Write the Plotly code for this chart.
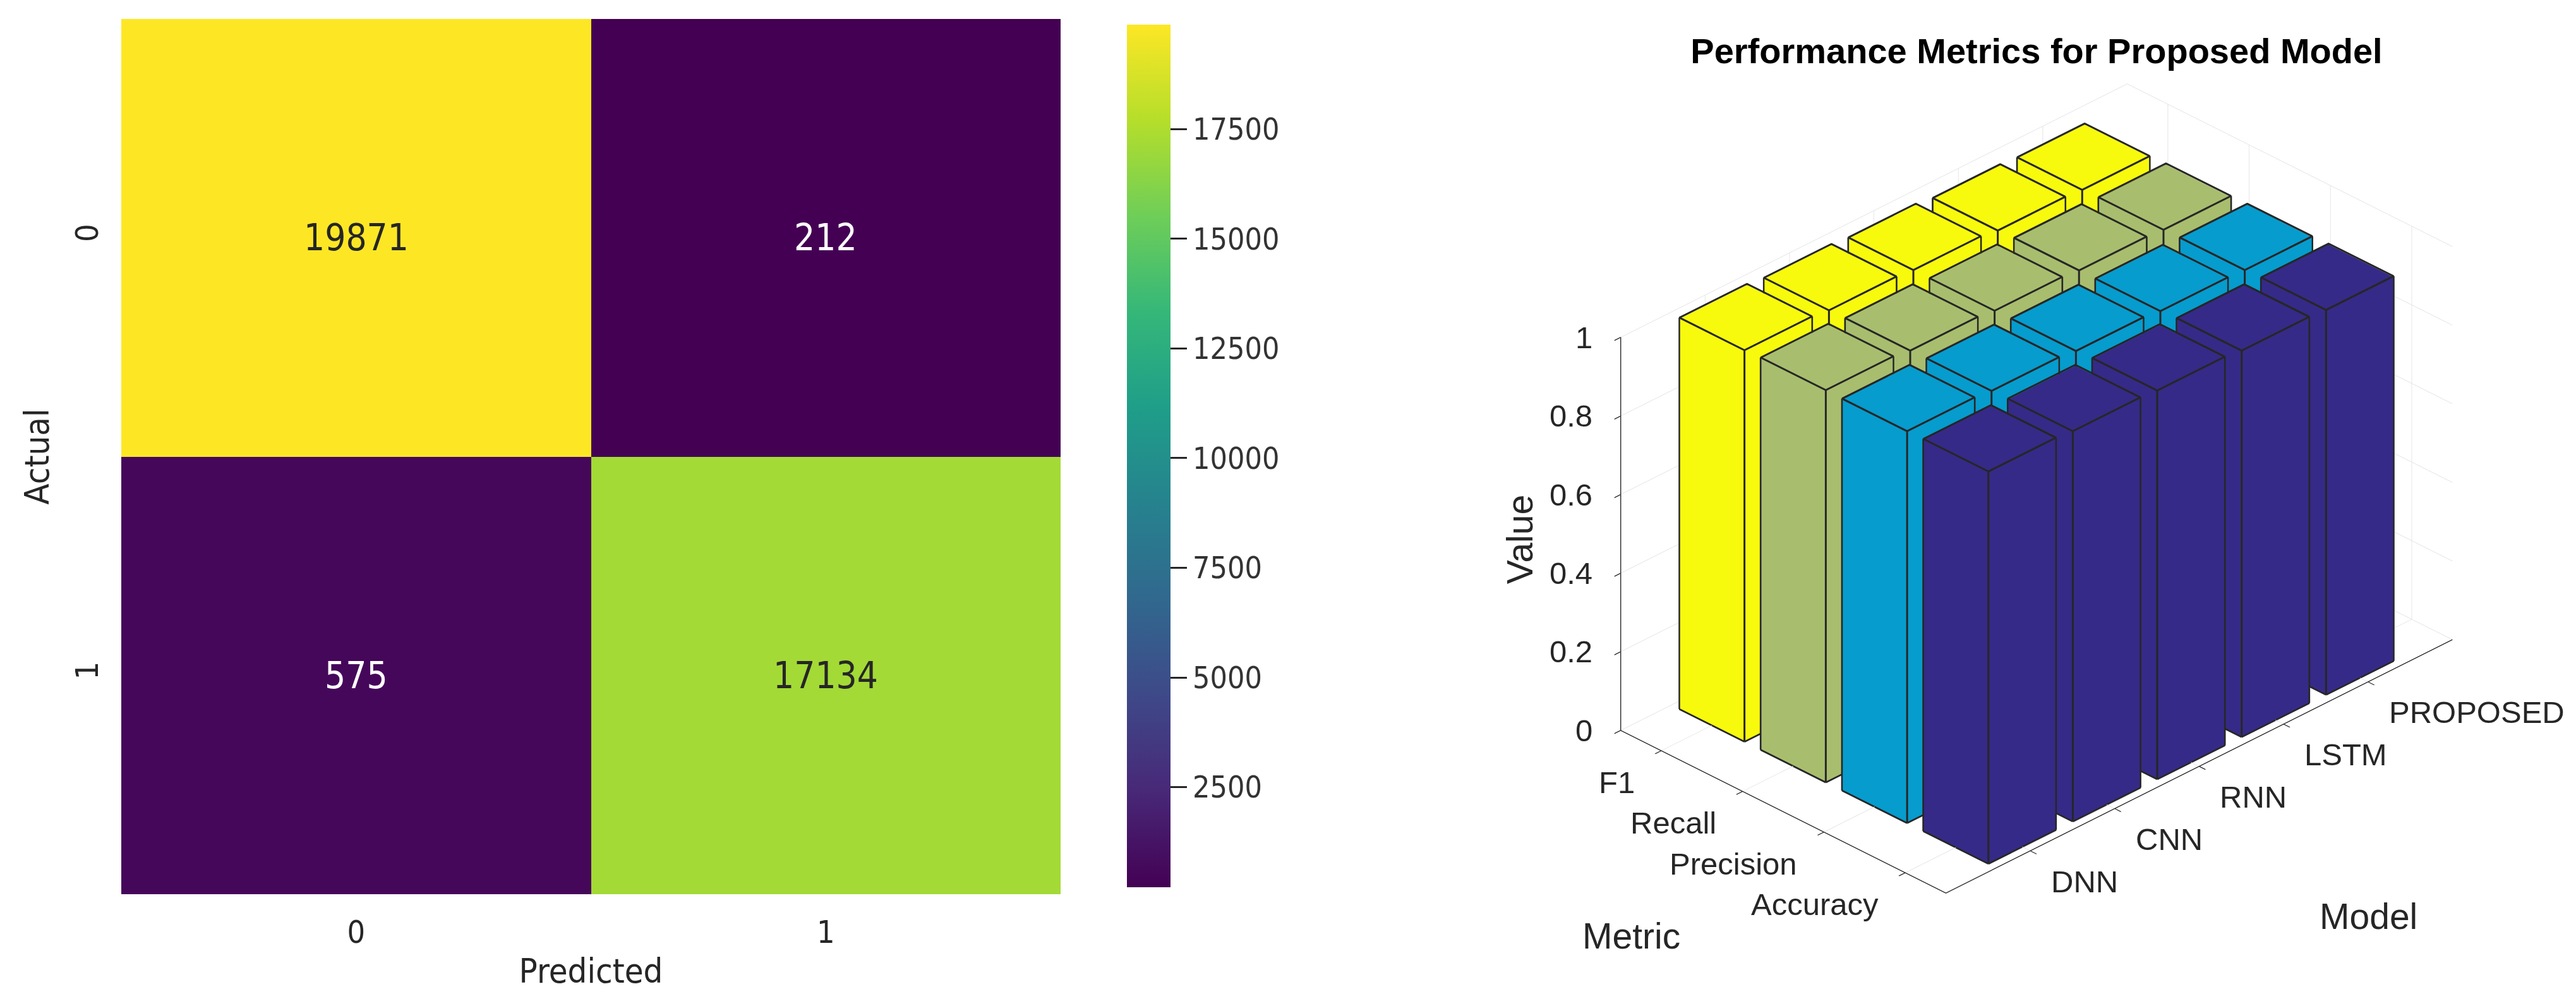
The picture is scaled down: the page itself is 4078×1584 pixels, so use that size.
#!/usr/bin/env python3
import plotly.graph_objects as go

# +
# data
# -
cm_labels = ['0', '1']
cm_values = [[19871, 212],
             [575, 17134]]
cbar_ticks = [2500, 5000, 7500, 10000, 12500, 15000, 17500]

models = ['DNN', 'CNN', 'RNN', 'LSTM', 'PROPOSED']
metrics = ['Accuracy', 'Precision', 'Recall', 'F1']
accuracy = [0.998, 0.993, 0.989, 0.983, 0.979]
precision = [0.997, 0.992, 0.986, 0.980, 0.977]
recall = [0.998, 0.991, 0.985, 0.980, 0.976]
f1 = [0.996, 0.990, 0.985, 0.978, 0.974]
value_ticks = [0, 0.2, 0.4, 0.6, 0.8, 1]

bar_colors = ['#352a87', '#069cce', '#a8be6e', '#f8fa0d']

W, H = 4078, 1584
cm_font = 'DejaVu Sans Condensed, DejaVu Sans'
ml_font = 'Liberation Sans, Arial, Helvetica'
ink = '#262626'

fig = go.Figure()

# +
# left: confusion matrix heatmap
# -
zmin = min(min(r) for r in cm_values)
zmax = max(max(r) for r in cm_values)
fig.add_trace(go.Heatmap(
    z=cm_values, x=cm_labels, y=cm_labels, xaxis='x', yaxis='y',
    colorscale='Viridis', zmin=zmin, zmax=zmax, hoverinfo='skip',
    colorbar=dict(x=1766 / W, xanchor='left', y=1 - 714 / H, yanchor='middle',
                  len=(1407 - 22) / H, lenmode='fraction',
                  thickness=69, thicknessmode='pixels', outlinewidth=0,
                  tickvals=cbar_ticks, ticktext=[str(t) for t in cbar_ticks],
                  ticks='outside', ticklen=26, tickwidth=3,
                  tickcolor=ink, tickfont=dict(family=cm_font, size=48, color='#333333'))))

for r, row in enumerate(cm_values):
    for c, val in enumerate(row):
        fig.add_annotation(x=cm_labels[c], y=cm_labels[r], xref='x', yref='y',
                           text=str(val), showarrow=False,
                           font=dict(family=cm_font, size=58,
                                     color='white' if val < (zmin + zmax) / 2 else ink))

# +
# right: 3D bars
# -
rows = [accuracy, precision, recall, f1]
hw = 0.4
eps = 0.004
for j, vals in enumerate(rows):
    vx, vy, vz, ti, tj, tk = [], [], [], [], [], []
    ex, ey, ez = [], [], []
    for i, v in enumerate(vals):
        xc, yc = i + 1, j + 1
        x0, x1 = xc - hw + eps, xc + hw - eps
        y0, y1 = yc - hw + eps, yc + hw - eps
        z1 = v - eps / 2
        b = len(vx)
        for (px, py, pz) in [(x0, y0, 0), (x1, y0, 0), (x1, y1, 0), (x0, y1, 0),
                             (x0, y0, z1), (x1, y0, z1), (x1, y1, z1), (x0, y1, z1)]:
            vx.append(px); vy.append(py); vz.append(pz)
        for (a, bb, cc) in [(0, 1, 2), (0, 2, 3), (4, 5, 6), (4, 6, 7),
                            (0, 1, 5), (0, 5, 4), (3, 2, 6), (3, 6, 7),
                            (0, 3, 7), (0, 7, 4), (1, 2, 6), (1, 6, 5)]:
            ti.append(b + a); tj.append(b + bb); tk.append(b + cc)
        # outline
        X0, X1, Y0, Y1 = xc - hw, xc + hw, yc - hw, yc + hw
        c = [(X0, Y0), (X1, Y0), (X1, Y1), (X0, Y1)]
        for zz in (0, v):
            for k in range(5):
                px, py = c[k % 4]
                ex.append(px); ey.append(py); ez.append(zz)
            ex.append(None); ey.append(None); ez.append(None)
        for px, py in c:
            ex += [px, px, None]; ey += [py, py, None]; ez += [0, v, None]
    fig.add_trace(go.Mesh3d(x=vx, y=vy, z=vz, i=ti, j=tj, k=tk, scene='scene',
                            color=bar_colors[j], flatshading=True, hoverinfo='skip',
                            lighting=dict(ambient=1, diffuse=0, specular=0, roughness=1, fresnel=0)))
    fig.add_trace(go.Scatter3d(x=ex, y=ey, z=ez, mode='lines', scene='scene',
                               line=dict(color=ink, width=6), hoverinfo='skip',
                               showlegend=False, connectgaps=False))

# axis labels drawn as scene annotations anchored on the axis ticks
tick_font = dict(family=ml_font, size=49, color=ink)
title_font = dict(family=ml_font, size=57, color=ink)
ann3 = []
for i, m in enumerate(models):
    ann3.append(dict(x=i + 1, y=0.5, z=0, text=m, showarrow=False, xanchor='left',
                     yanchor='middle', xshift=31, yshift=-48, font=tick_font))
for j, m in enumerate(metrics):
    ann3.append(dict(x=0, y=j + 1, z=0, text=m, showarrow=False, xanchor='right',
                     yanchor='middle', xshift=-40, yshift=-50, font=tick_font))
for t in value_ticks:
    ann3.append(dict(x=0, y=4.5, z=t, text=f'{t:g}', showarrow=False, xanchor='right',
                     yanchor='middle', xshift=-42, yshift=0, font=tick_font))
ann3.append(dict(x=0, y=4.5, z=0.5, text='Value', showarrow=False, textangle=-90,
                 xshift=-160, yshift=-8, font=title_font))
ann3.append(dict(x=0, y=2.5, z=0, text='Metric', showarrow=False,
                 xshift=-240, yshift=-196, font=title_font))
ann3.append(dict(x=3, y=0.5, z=0, text='Model', showarrow=False,
                 xshift=268, yshift=-237, font=title_font))

ax3 = dict(showbackground=False, showgrid=True, gridcolor='#e3e3e3', gridwidth=2,
           showline=True, linecolor=ink, linewidth=3, zeroline=False,
           ticks='outside', ticklen=14, tickcolor=ink, tickwidth=3, showspikes=False,
           showticklabels=False, title=dict(text=''))

k = 2.0
fig.update_layout(
    width=W, height=H, paper_bgcolor='white', plot_bgcolor='white',
    margin=dict(l=0, r=0, t=0, b=0), showlegend=False,
    xaxis=dict(domain=[184 / W, 1671 / W], tickvals=cm_labels, ticks='outside', ticklen=16,
               tickcolor='rgba(0,0,0,0)', showgrid=False, zeroline=False,
               tickfont=dict(family=cm_font, size=50, color=ink),
               title=dict(text='Predicted', standoff=14,
                          font=dict(family=cm_font, size=54, color=ink))),
    yaxis=dict(domain=[1 - 1407 / H, 1 - 22 / H], autorange='reversed', tickvals=cm_labels,
               ticks='outside', ticklen=16, tickcolor='rgba(0,0,0,0)', tickangle=-90,
               showgrid=False, zeroline=False,
               tickfont=dict(family=cm_font, size=50, color=ink),
               title=dict(text='Actual', standoff=14,
                          font=dict(family=cm_font, size=54, color=ink))),
    title=dict(text='<b>Performance Metrics for Proposed Model</b>', x=3216 / W, xanchor='center',
               y=1 - 72 / H, yanchor='middle', font=dict(family=ml_font, size=56, color='black')),
    scene=dict(
        domain=dict(x=[0.6, 0.9772], y=[0.0397, 0.9943]),
        aspectmode='manual', aspectratio=dict(x=1.5, y=0.963, z=0.95),
        camera=dict(projection=dict(type='orthographic'), up=dict(x=0, y=0, z=1),
                    center=dict(x=0, y=0, z=0),
                    eye=dict(x=-0.612 * k, y=-0.612 * k, z=0.5 * k)),
        xaxis=dict(ax3, range=[0, 6], tickvals=[1, 2, 3, 4, 5]),
        yaxis=dict(ax3, range=[0.5, 4.5], tickvals=[1, 2, 3, 4]),
        zaxis=dict(ax3, range=[0, 1], tickvals=value_ticks),
        annotations=ann3,
    ),
)

fig.write_html('out.html')
